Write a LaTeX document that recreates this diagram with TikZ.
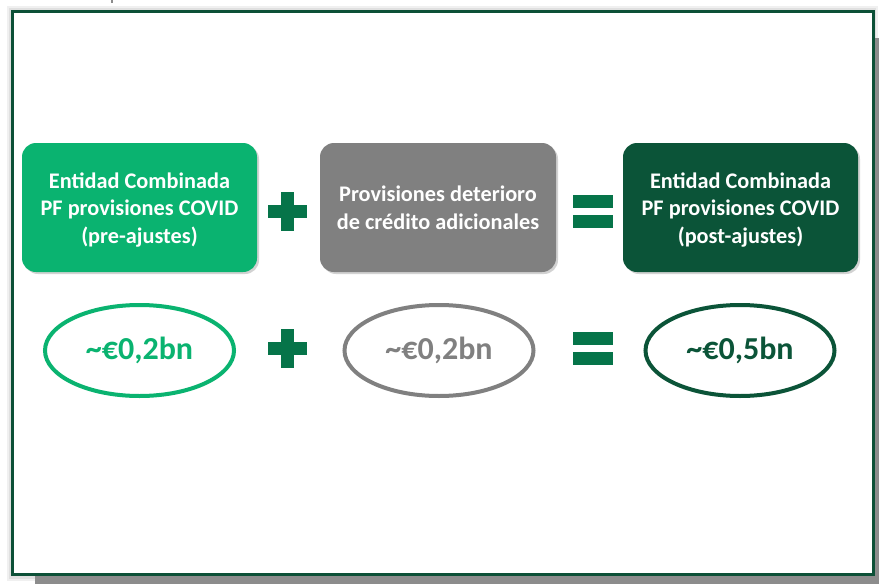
\documentclass[tikz,border=0pt]{standalone}
\usepackage{fontspec}
\setmainfont{Carlito}
\usetikzlibrary{shadows,calc,shapes.geometric}
\definecolor{brightgreen}{RGB}{10,179,112}
\definecolor{signgreen}{RGB}{6,116,73}
\definecolor{deepgreen}{RGB}{11,84,56}
\definecolor{framegreen}{RGB}{12,80,55}
\definecolor{boxgray}{RGB}{128,128,128}
\definecolor{slidegray}{RGB}{140,140,140}
\newcommand{\cardlines}[1]{\raisebox{-2.5pt}[\height][\depth]{\begin{tabular}{@{}c@{}}#1\end{tabular}}}
\tikzset{
  card/.style={rounded corners=14pt, minimum width=235pt, minimum height=129pt,
    align=center, text=white, font=\fontsize{22.3}{27.5}\selectfont\bfseries,
    drop shadow={opacity=0.35, shadow xshift=2pt, shadow yshift=-2pt}},
  oval/.style={ellipse, line width=4pt, minimum width=189pt, minimum height=91pt,
    inner sep=0pt, font=\fontsize{32}{36}\selectfont\bfseries},
  signbar/.style={fill=signgreen, draw=none}
}
\begin{document}
\begin{tikzpicture}[x=1pt,y=-1pt]
\useasboundingbox (0,0) rectangle (879,584);
% soft shadow of frame
\fill[black!6] (7,6) rectangle (878,581);
\fill[black!12] (9,8) rectangle (876,579);
% slide behind
\fill[slidegray] (35,38) rectangle (879,584);
\draw[slidegray, line width=1.2pt] (112,0) -- (112,3);
% frame
\draw[framegreen, line width=3.2pt, fill=white] (12.5,11.5) rectangle (873.5,574.5);

% cards
\node[card, fill=brightgreen] (pre) at (139.5,207.5)
  {\cardlines{Entidad Combinada\\PF provisiones COVID\\(pre-ajustes)}};
\node[card, fill=boxgray, minimum width=236pt] (adj) at (438,207.5)
  {\cardlines{Provisiones deterioro\\de crédito adicionales}};
\node[card, fill=deepgreen] (post) at (740.5,207.5)
  {\cardlines{Entidad Combinada\\PF provisiones COVID\\(post-ajustes)}};

% ovals
\node[oval, draw=brightgreen, text=brightgreen] (v1) at (139.5,350.5) {\textasciitilde€0,2bn};
\node[oval, draw=boxgray, text=boxgray] (v2) at (439,350.5) {\textasciitilde€0,2bn};
\node[oval, draw=deepgreen, text=deepgreen] (v3) at (740,350.5) {\textasciitilde€0,5bn};

% plus signs
\foreach \cy/\nm in {211.5/plusA, 348.5/plusB}{
  \coordinate (\nm) at (287.5,\cy);
  \fill[signbar] ($(\nm)+(-19.5,-6.5)$) rectangle ($(\nm)+(19.5,6.5)$);
  \fill[signbar] ($(\nm)+(-6.5,-19.5)$) rectangle ($(\nm)+(6.5,19.5)$);
}
% equal signs
\foreach \cy/\nm in {211/eqA, 348.5/eqB}{
  \coordinate (\nm) at (593,\cy);
  \fill[signbar] ($(\nm)+(-20,-16.5)$) rectangle ($(\nm)+(20,-3.5)$);
  \fill[signbar] ($(\nm)+(-20,3.5)$) rectangle ($(\nm)+(20,16.5)$);
}
\end{tikzpicture}
\end{document}
